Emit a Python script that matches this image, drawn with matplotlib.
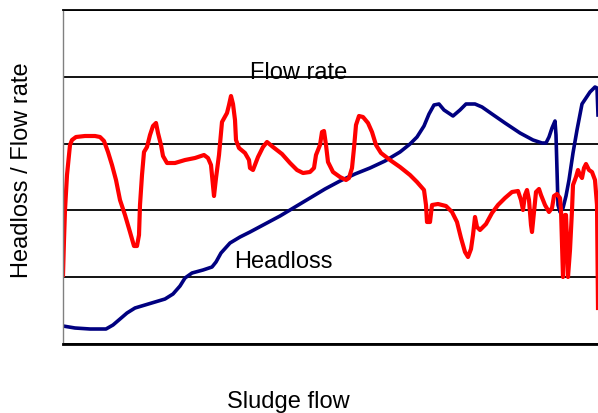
import numpy as np
import matplotlib.pyplot as plt

plt.rcParams['font.family'] = ['Liberation Sans', 'DejaVu Sans']

# values (arbitrary units, y grid step = 66.8)
red_x = [0, 1, 2, 4, 7, 9, 13, 22, 32, 37, 41, 45, 49, 53, 57, 62, 67, 71, 74, 76,
         77, 79, 81, 84, 87, 90, 93, 95, 98, 100, 104, 112, 122, 132, 141, 145, 148, 151, 153, 156,
         159, 164, 166, 168, 170, 172, 173, 176, 182, 186, 187, 190, 195, 200, 204, 210, 219, 227, 234, 240,
         247, 251, 253, 257, 259, 261, 263, 265, 270, 277, 283, 286, 289, 291, 293, 296, 300, 305, 309, 313,
         318, 327, 337, 347, 354, 361, 363, 364, 367, 369, 375, 383, 389, 394, 398, 402, 405, 408, 410, 412,
         414, 417, 423, 429, 435, 442, 449, 455, 458, 460, 462, 464, 466, 468, 469, 471, 473, 476, 478, 482,
         486, 489, 491, 494, 497, 498, 500, 502, 503, 504, 505, 507, 509, 510, 513, 515, 517, 519, 521, 523,
         526, 529, 532, 534, 535]
red_y = [69, 104, 134, 169, 199, 204, 207, 208, 208, 207, 203, 192, 179, 164, 144, 129, 112, 98, 98, 109,
         139, 169, 192, 197, 209, 218, 221, 211, 199, 188, 181, 181, 184, 186, 189, 186, 179, 148, 166, 189,
         222, 231, 239, 248, 240, 224, 204, 196, 191, 184, 176, 174, 187, 197, 202, 197, 190, 181, 174, 171,
         172, 176, 189, 199, 212, 213, 199, 182, 172, 167, 164, 166, 176, 196, 219, 228, 227, 221, 212, 199,
         191, 184, 177, 169, 162, 154, 139, 122, 122, 139, 140, 138, 132, 122, 106, 92, 87, 95, 109, 127,
         117, 114, 120, 131, 139, 146, 152, 153, 144, 134, 149, 154, 144, 119, 112, 132, 152, 155, 149, 139,
         132, 136, 148, 150, 146, 134, 67, 129, 129, 104, 67, 94, 134, 159, 167, 174, 169, 166, 176, 180,
         174, 172, 164, 139, 36]

blue_x = [0, 12, 27, 43, 50, 57, 64, 72, 82, 92, 102, 110, 117, 122, 129, 140, 149, 153, 158, 167,
          177, 187, 202, 217, 232, 247, 262, 277, 292, 307, 322, 337, 347, 354, 361, 366, 371, 376, 381, 390,
          397, 403, 412, 419, 429, 442, 457, 470, 479, 483, 486, 489, 492, 493, 494, 495, 497, 500, 503, 506,
          510, 514, 519, 527, 532, 534, 535]
blue_y = [18, 16, 15, 15, 19, 25, 31, 36, 39, 42, 45, 50, 58, 66, 71, 74, 77, 82, 91, 101,
          107, 112, 120, 128, 137, 146, 155, 163, 170, 176, 183, 192, 200, 207, 218, 230, 239, 240, 234, 228,
          234, 240, 240, 237, 230, 221, 211, 204, 201, 201, 207, 216, 223, 209, 174, 139, 132, 136, 148, 164,
          191, 214, 240, 252, 257, 256, 229]

fig = plt.figure(figsize=(5.98, 4.13), dpi=100)
ax = fig.add_axes([63 / 598, 69 / 413, 535 / 598, 334 / 413])

ax.plot(blue_x, blue_y, color='#000080', linewidth=2.6, solid_joinstyle='round')
ax.plot(red_x, red_y, color='#ff0000', linewidth=3, solid_joinstyle='round')

ax.set_xlim(0, 535)
ax.set_ylim(0, 334)
ax.set_yticks(np.linspace(0, 334, 6))
ax.set_xticks([])
ax.tick_params(left=False, labelleft=False)
ax.grid(axis='y', color='black', linewidth=1.3)
ax.set_axisbelow(True)

ax.spines['right'].set_visible(False)
ax.spines['top'].set_linewidth(1.3)
ax.spines['bottom'].set_linewidth(2)
ax.spines['left'].set_color('#808080')
ax.spines['left'].set_linewidth(1)

ax.text(236, 265, 'Flow rate', fontsize=17, ha='center', va='baseline')
ax.text(220, 76, 'Headloss', fontsize=17, ha='center', va='baseline')

fig.text(22 / 598, 1 - 170 / 413, 'Headloss / Flow rate', fontsize=17, rotation=90,
         ha='center', va='center')
fig.text(288 / 598, 1 - 402 / 413, 'Sludge flow', fontsize=17, ha='center', va='center')

fig.savefig('out.png', dpi=100)
